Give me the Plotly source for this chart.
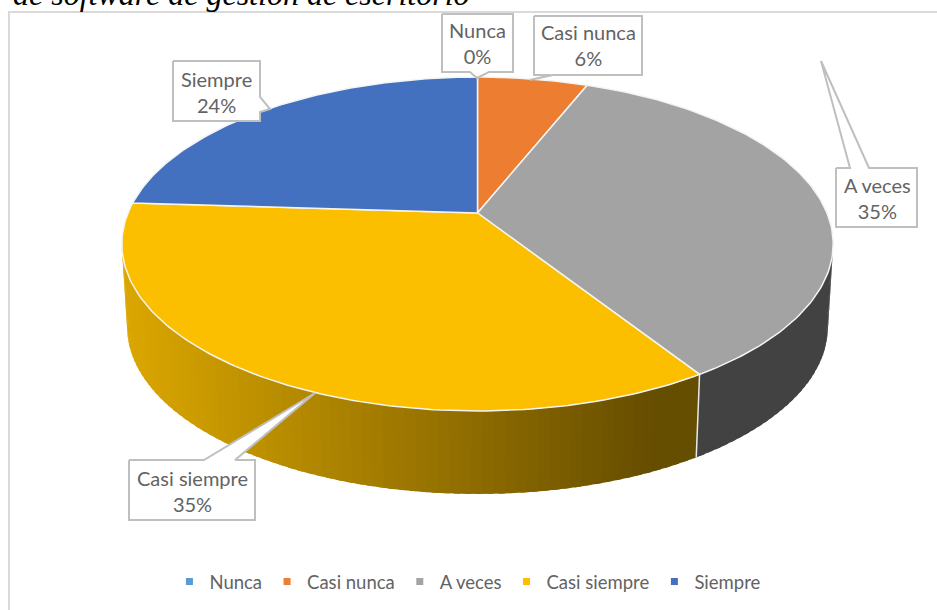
import math
import plotly.graph_objects as go

# ---- data ----
categories = ["Nunca", "Casi nunca", "A veces", "Casi siempre", "Siempre"]
values = [0, 6, 35, 35, 24]
colors = ["#5B9BD5", "#ED7D31", "#A3A3A3", "#FBBF00", "#4371BF"]
title_text = "de software de gestión de escritorio"

# ---- projection of the tilted disc, in figure pixels ----
CX, CY, A, B, K = 477.5, 213, 349.5, 161.2, 0.1856
DEPTH, SHRINK = 83, 0.985


def rim(theta):
    X, Y = math.sin(theta), math.cos(theta)
    d = 1 + K * Y
    return CX + A * X / d, CY - B * Y / d


def low(theta):
    x, y = rim(theta)
    return CX + (x - CX) * SHRINK, y + DEPTH


def hex_scale(col, s):
    r, g, b = int(col[1:3], 16), int(col[3:5], 16), int(col[5:7], 16)
    return "rgb(%d,%d,%d)" % (r * s, g * s, b * s)


def shade(x, idx):
    if categories[idx] == "A veces":
        return 0.41
    t = min(1, max(0, (x - 130) / (650 - 130)))
    return 0.87 - t * (0.87 - 0.41)


fig = go.Figure()

total = sum(values)
edges = [0]
for v in values:
    edges.append(edges[-1] + v / total * 2 * math.pi)

VIS0, VIS1 = math.acos(-K), 2 * math.pi - math.acos(-K)

# side wall: slices run right to left, each one overlapping the next to hide seams
for i in range(len(values)):
    a0, a1 = max(edges[i], VIS0), min(edges[i + 1], VIS1)
    if a1 <= a0:
        continue
    n = max(1, int((a1 - a0) / math.radians(1.5)))
    for j in range(n):
        t0 = a0 + (a1 - a0) * j / n
        t1 = min(a1, a0 + (a1 - a0) * (j + 1.6) / n)
        tm = a0 + (a1 - a0) * (j + 0.5) / n
        ts = [t0 + (t1 - t0) * s / 3 for s in range(4)]
        p = [rim(t) for t in ts] + [low(t) for t in reversed(ts)]
        p.append(p[0])
        c = hex_scale(colors[i], shade((rim(tm)[0] + low(tm)[0]) / 2, i))
        fig.add_trace(go.Scatter(x=[q[0] for q in p], y=[q[1] for q in p], mode="lines",
                                 fill="toself", fillcolor=c, line=dict(color=c, width=0),
                                 hoverinfo="skip", showlegend=False))

# white seam between side wall slices
for e in edges[1:-1]:
    if VIS0 < e < VIS1:
        p, q = rim(e), low(e)
        fig.add_trace(go.Scatter(x=[p[0], q[0]], y=[p[1], q[1]], mode="lines",
                                 line=dict(color="#E8E8E8", width=1.5),
                                 hoverinfo="skip", showlegend=False))

# top face
for i in range(len(values)):
    a0, a1 = edges[i], edges[i + 1]
    n = max(1, int((a1 - a0) / math.radians(1)))
    pts = [(CX, CY)] + [rim(a0 + (a1 - a0) * j / n) for j in range(n + 1)] + [(CX, CY)]
    fig.add_trace(go.Scatter(x=[q[0] for q in pts], y=[q[1] for q in pts], mode="lines",
                             fill="toself", fillcolor=colors[i],
                             line=dict(color="#F4F4F4", width=1.5),
                             hoverinfo="skip", showlegend=False))

# legend entries
for name, col in zip(categories, colors):
    fig.add_trace(go.Scatter(x=[None], y=[None], mode="markers", name=name,
                             marker=dict(symbol="square", size=7, color=col)))

# frame of the chart area
fig.add_trace(go.Scatter(x=[9, 9, 937], y=[610, 12, 12], mode="lines",
                         line=dict(color="#D9D9D9", width=2),
                         hoverinfo="skip", showlegend=False))

# callouts
callout_outlines = {
    "Nunca": [(442, 14), (513, 14), (513, 72), (489, 72), (477, 78), (470, 72), (442, 72)],
    "Casi nunca": [(534, 16), (642, 16), (642, 75), (553, 75), (530, 80), (551, 75), (534, 75)],
    "A veces": [(836, 168), (850, 168), (821, 61), (869, 168), (917, 168), (917, 227), (836, 227)],
    "Casi siempre": [(129, 460), (204, 460), (315, 393), (235, 460), (255, 460), (255, 520), (129, 520)],
    "Siempre": [(173, 61), (260, 61), (260, 97), (270, 109), (260, 112), (260, 121), (173, 121)],
}
callout_text_at = {
    "Nunca": (477, 43),
    "Casi nunca": (588, 45),
    "A veces": (877, 198),
    "Casi siempre": (192, 491),
    "Siempre": (216, 92),
}
for name, outline in callout_outlines.items():
    pts = outline + [outline[0]]
    fig.add_trace(go.Scatter(x=[q[0] for q in pts], y=[q[1] for q in pts], mode="lines",
                             fill="toself", fillcolor="#FFFFFF",
                             line=dict(color="#BFBFBF", width=2),
                             hoverinfo="skip", showlegend=False))

annotations = []
for name, v in zip(categories, values):
    tx, ty = callout_text_at[name]
    annotations.append(dict(x=tx, y=ty, xref="x", yref="y", showarrow=False,
                            text="%s<br>%d%%" % (name, v),
                            font=dict(family="Lato", size=20, color="#636363")))
annotations.append(dict(x=11, y=14, xref="x", yref="y", xanchor="left", yanchor="bottom",
                        showarrow=False, text="<i>%s</i>" % title_text,
                        font=dict(family="Liberation Serif", size=32, color="#000000")))

fig.update_layout(
    width=937, height=610, margin=dict(l=0, r=0, t=0, b=0),
    paper_bgcolor="#FFFFFF", plot_bgcolor="#FFFFFF",
    xaxis=dict(range=[0, 937], visible=False, fixedrange=True),
    yaxis=dict(range=[610, 0], visible=False, fixedrange=True),
    annotations=annotations,
    legend=dict(orientation="h", x=0.4994, xanchor="center", y=0.015, yanchor="bottom",
                font=dict(family="Lato", size=18.5, color="#636363"), itemwidth=30,
                bgcolor="rgba(0,0,0,0)"),
)
fig.write_html("out.html", config=dict(displayModeBar=False),
               post_script="document.body.style.margin='0';document.documentElement.style.overflow='hidden';document.body.style.overflow='hidden';")
